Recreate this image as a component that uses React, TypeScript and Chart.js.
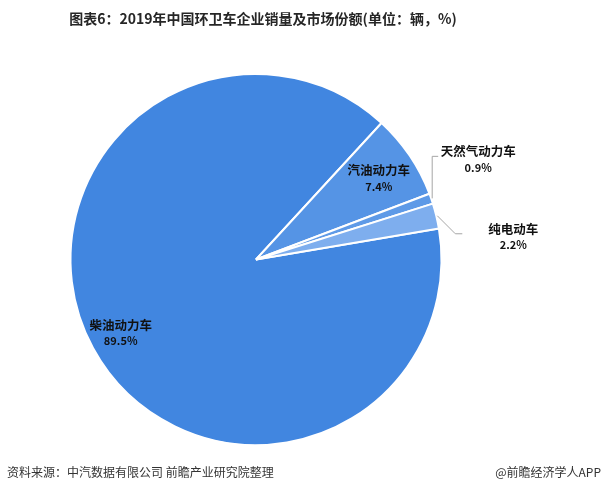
import React, { useEffect, useRef } from "react";
import { Chart, registerables } from "chart.js";

Chart.register(...registerables);

const categories = ["柴油动力车", "汽油动力车", "天然气动力车", "纯电动车"];
const shares = [89.5, 7.4, 0.9, 2.2];
const shareLabels = ["89.5%", "7.4%", "0.9%", "2.2%"];
const sliceColors = ["#4186E0", "#5594E5", "#5E9AE7", "#7EAEEE"];
const titleText = "图表6：2019年中国环卫车企业销量及市场份额(单位：辆，%)";
const sourceText = "资料来源：中汽数据有限公司 前瞻产业研究院整理";
const brandText = "@前瞻经济学人APP";

const FONT = '"Noto Sans CJK SC", "Noto Sans", sans-serif';

const labelPlugin = {
  id: "customLabels",
  afterDraw(chart: any) {
    const ctx = chart.ctx as CanvasRenderingContext2D;
    const meta = chart.getDatasetMeta(0);
    ctx.save();
    // title
    ctx.fillStyle = "#262626";
    ctx.font = `bold 14px ${FONT}`;
    ctx.textAlign = "center";
    ctx.textBaseline = "middle";
    ctx.fillText(titleText, 263, 19);
    // footer
    ctx.fillStyle = "#333333";
    ctx.font = `12px ${FONT}`;
    ctx.textAlign = "left";
    ctx.fillText(sourceText, 7, 472);
    ctx.textAlign = "right";
    ctx.fillText(brandText, 601, 472);

    meta.data.forEach((arc: any, i: number) => {
      const p = arc.getProps(["x", "y", "startAngle", "endAngle", "outerRadius"], true);
      const mid = (p.startAngle + p.endAngle) / 2;
      const cos = Math.cos(mid);
      const sin = Math.sin(mid);
      let nx: number, ny: number;
      if (i === 0 || i === 1) {
        const rr = i === 0 ? p.outerRadius * 0.83 : p.outerRadius * 0.78;
        nx = p.x + cos * rr + (i === 1 ? 3 : 0);
        ny = p.y + sin * rr;
      } else {
        const sx = p.x + cos * (p.outerRadius + 1);
        const sy = p.y + sin * (p.outerRadius + 1);
        ctx.strokeStyle = "#A6A6A6";
        ctx.lineWidth = 1;
        ctx.beginPath();
        if (i === 2) {
          ctx.moveTo(sx, sy);
          ctx.lineTo(sx, sy - 42);
          ctx.lineTo(sx + 6, sy - 42);
          nx = sx + 46;
          ny = sy - 39;
        } else {
          ctx.moveTo(sx, sy);
          ctx.lineTo(sx + 18, sy + 18);
          ctx.lineTo(sx + 25, sy + 18);
          nx = sx + 76;
          ny = sy + 21;
        }
        ctx.stroke();
      }
      ctx.fillStyle = "#111111";
      ctx.textAlign = "center";
      ctx.textBaseline = "middle";
      ctx.font = `bold 12.5px ${FONT}`;
      ctx.fillText(categories[i], nx, ny - 8);
      ctx.font = `bold 11px ${FONT}`;
      ctx.fillText(shareLabels[i], nx, ny + 8);
    });
    ctx.restore();
  },
};

export default function App() {
  const ref = useRef<HTMLCanvasElement>(null);
  useEffect(() => {
    const chart = new Chart(ref.current!, {
      type: "pie",
      data: {
        labels: categories,
        datasets: [
          {
            data: shares,
            backgroundColor: sliceColors,
            borderColor: "#ffffff",
            borderWidth: 2,
          },
        ],
      },
      options: {
        animation: false,
        responsive: false,
        rotation: 80.4,
        layout: { padding: { left: 69.5, right: 161.5, top: 73, bottom: 48 } },
        plugins: {
          legend: { display: false },
          title: { display: false },
          tooltip: { enabled: false },
        },
      },
      plugins: [labelPlugin],
    });
    return () => chart.destroy();
  }, []);
  return (
    <div style={{ position: "fixed", left: 0, top: 0, width: 604, height: 494, background: "#fff" }}>
      <canvas ref={ref} width={604} height={494} style={{ width: 604, height: 494 }} />
    </div>
  );
}
